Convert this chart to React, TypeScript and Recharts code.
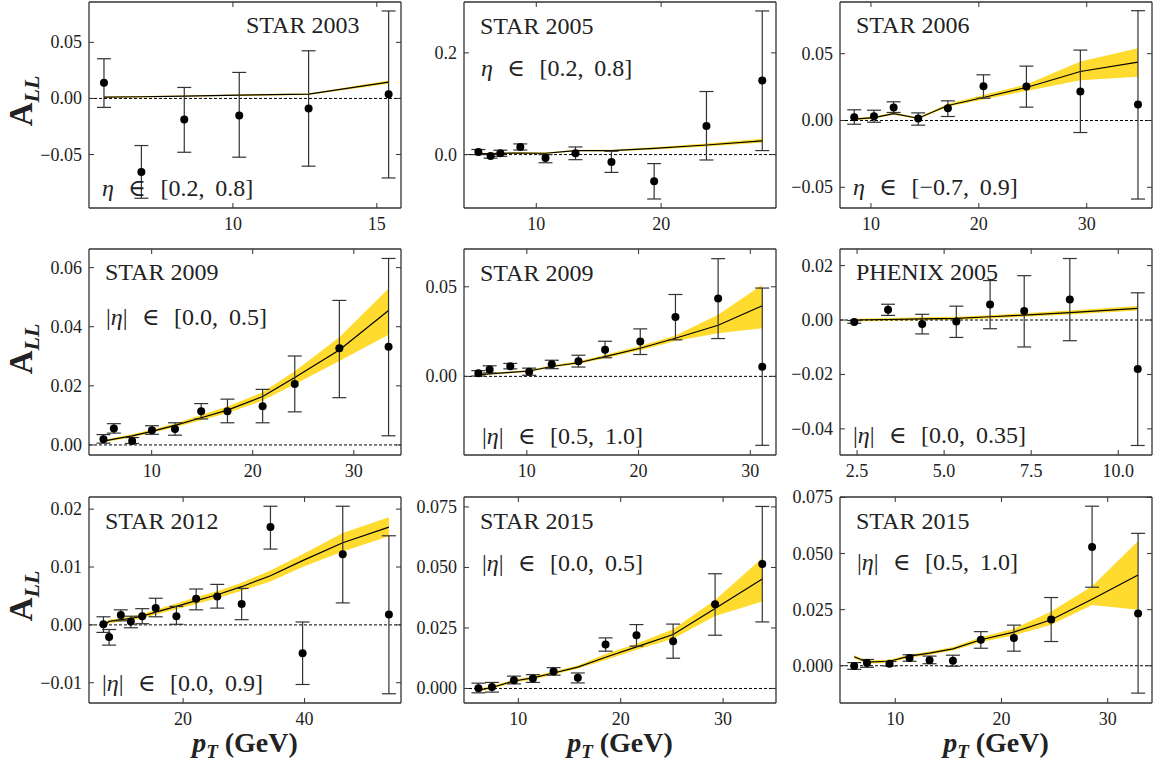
import React from 'react';
import {
  ComposedChart,
  Scatter,
  ErrorBar,
  Line,
  Area,
  XAxis,
  YAxis,
  ReferenceLine,
} from 'recharts';

// ---- data (pT in GeV, A_LL) ----

// STAR 2003
const p1X = [5.52, 6.82, 8.31, 10.22, 12.63, 15.41];
const p1A = [0.0139, -0.0655, -0.0188, -0.0152, -0.0089, 0.0038];
const p1Hi = [0.0354, -0.042, 0.0098, 0.0232, 0.0425, 0.078];
const p1Lo = [-0.008, -0.089, -0.048, -0.0524, -0.0604, -0.0709];
const p1CurveX = [5.52, 6.82, 8.31, 10.22, 12.63, 15.41];
const p1Curve = [0.0012, 0.0015, 0.002, 0.003, 0.0038, 0.0145];
const p1BandLo = [0.0006, 0.0009, 0.0014, 0.0023, 0.0031, 0.0132];
const p1BandHi = [0.0018, 0.0021, 0.0026, 0.0037, 0.0045, 0.016];

// STAR 2005
const p2X = [5.36, 6.34, 7.12, 8.72, 10.74, 13.14, 16.02, 19.44, 23.63, 28.1];
const p2A = [0.005, -0.003, 0.0026, 0.015, -0.0067, 0.0026, -0.0146, -0.0525, 0.0563, 0.1455];
const p2Hi = [0.01, 0.001, 0.0086, 0.021, 0.0, 0.015, 0.0065, -0.0177, 0.124, 0.2824];
const p2Lo = [0.0, -0.007, -0.0034, 0.009, -0.016, -0.01, -0.035, -0.0873, -0.0106, 0.0079];
const p2CurveX = [5.36, 6.34, 7.12, 8.72, 10.74, 13.14, 16.02, 19.44, 23.63, 28.1];
const p2Curve = [0.002, 0.002, 0.0025, 0.003, 0.0026, 0.0079, 0.0077, 0.0124, 0.0189, 0.027];
const p2BandLo = [0.0005, 0.0005, 0.001, 0.0015, 0.0011, 0.0064, 0.006, 0.0102, 0.016, 0.024];
const p2BandHi = [0.0035, 0.0035, 0.004, 0.0045, 0.0041, 0.0094, 0.0094, 0.0146, 0.0218, 0.031];

// STAR 2006
const p3X = [8.45, 10.28, 12.1, 14.38, 17.13, 20.43, 24.41, 29.41, 34.75];
const p3A = [0.0025, 0.0032, 0.0097, 0.0015, 0.0092, 0.0257, 0.0255, 0.0217, 0.012];
const p3Hi = [0.008, 0.0077, 0.014, 0.0057, 0.0147, 0.0342, 0.0407, 0.0527, 0.0822];
const p3Lo = [-0.0028, -0.0013, 0.006, -0.0035, 0.003, 0.0167, 0.01, -0.009, -0.0588];
const p3CurveX = [8.45, 10.28, 12.1, 14.38, 17.13, 20.43, 24.41, 29.41, 34.75];
const p3Curve = [0.001, 0.0022, 0.0052, 0.0017, 0.0112, 0.0172, 0.0247, 0.0367, 0.0437];
const p3BandLo = [0.0002, 0.0014, 0.0044, 0.0009, 0.0102, 0.0158, 0.022, 0.0302, 0.0327];
const p3BandHi = [0.0018, 0.003, 0.006, 0.0025, 0.0125, 0.019, 0.027, 0.0442, 0.054];

// STAR 2009 |eta| < 0.5
const p4X = [5.23, 6.26, 8.07, 10.03, 12.31, 14.9, 17.5, 20.98, 24.16, 28.57, 33.44];
const p4A = [0.0019, 0.0056, 0.0013, 0.005, 0.0054, 0.0114, 0.0114, 0.0131, 0.0206, 0.0327, 0.0332];
const p4Hi = [0.0035, 0.0072, 0.0025, 0.0065, 0.0075, 0.014, 0.0155, 0.0188, 0.0301, 0.0489, 0.0631];
const p4Lo = [0.0006, 0.004, 0.0005, 0.0036, 0.0033, 0.0088, 0.0075, 0.0075, 0.0112, 0.016, 0.0031];
const p4CurveX = [5.23, 6.26, 8.07, 10.03, 12.31, 14.9, 17.5, 20.98, 24.16, 28.57, 33.44];
const p4Curve = [0.0013, 0.002, 0.0031, 0.0046, 0.0066, 0.0092, 0.0118, 0.0164, 0.0228, 0.0321, 0.0455];
const p4BandLo = [0.0009, 0.0015, 0.0026, 0.0041, 0.006, 0.0084, 0.0108, 0.015, 0.0205, 0.0284, 0.0373];
const p4BandHi = [0.0017, 0.0024, 0.0036, 0.0052, 0.0073, 0.0101, 0.013, 0.0178, 0.0249, 0.0364, 0.0529];

// STAR 2009 0.5 < |eta| < 1.0
const p5X = [5.66, 6.67, 8.52, 10.21, 12.23, 14.62, 17.0, 20.15, 23.3, 27.12, 31.07];
const p5A = [0.0017, 0.0039, 0.0057, 0.0026, 0.0067, 0.0085, 0.0148, 0.0194, 0.0331, 0.0435, 0.0054];
const p5Hi = [0.0032, 0.0059, 0.0072, 0.0046, 0.009, 0.0118, 0.0196, 0.0265, 0.0457, 0.0657, 0.0493];
const p5Lo = [0.0002, 0.0019, 0.0042, 0.0006, 0.0043, 0.0052, 0.0104, 0.0122, 0.0204, 0.0211, -0.0385];
const p5CurveX = [5.66, 6.67, 8.52, 10.21, 12.23, 14.62, 17.0, 20.15, 23.3, 27.12, 31.07];
const p5Curve = [0.0009, 0.0014, 0.0022, 0.003, 0.0055, 0.0076, 0.011, 0.0157, 0.0213, 0.0285, 0.0394];
const p5BandLo = [0.0004, 0.0009, 0.0017, 0.0025, 0.0049, 0.0069, 0.0101, 0.0146, 0.0198, 0.024, 0.0268];
const p5BandHi = [0.0014, 0.0019, 0.0027, 0.0036, 0.0062, 0.0084, 0.012, 0.017, 0.0228, 0.0344, 0.0511];

// PHENIX 2005
const p6X = [2.42, 3.39, 4.37, 5.35, 6.32, 7.3, 8.61, 10.56];
const p6A = [-0.0007, 0.0038, -0.0015, -0.0005, 0.0057, 0.0033, 0.0075, -0.018];
const p6Hi = [-0.0002, 0.0058, 0.0021, 0.0051, 0.0145, 0.0163, 0.0226, 0.01];
const p6Lo = [-0.0012, 0.0017, -0.0051, -0.0064, -0.0032, -0.0099, -0.0076, -0.0461];
const p6CurveX = [2.42, 3.39, 4.37, 5.35, 6.32, 7.3, 8.61, 10.56];
const p6Curve = [0.0, 0.0002, 0.0004, 0.0006, 0.0012, 0.0018, 0.0027, 0.0043];
const p6BandLo = [-0.0005, -0.0003, -0.0001, 0.0001, 0.0006, 0.0012, 0.002, 0.0035];
const p6BandHi = [0.0005, 0.0007, 0.001, 0.0012, 0.0018, 0.0025, 0.0035, 0.0052];

// STAR 2012
const p7X = [6.89, 7.82, 9.75, 11.4, 13.27, 15.49, 18.9, 22.15, 25.62, 29.64, 34.38, 39.67, 46.28, 53.88];
const p7A = [0.0001, -0.0021, 0.0017, 0.0006, 0.0015, 0.0029, 0.0015, 0.0045, 0.0049, 0.0036, 0.0169, -0.0049, 0.0122, 0.0018];
const p7Hi = [0.0014, -0.0008, 0.0026, 0.0015, 0.0028, 0.0046, 0.0032, 0.0062, 0.007, 0.0063, 0.0205, 0.0005, 0.0205, 0.0154];
const p7Lo = [-0.0013, -0.0035, 0.0007, -0.0005, 0.0002, 0.0014, 0.0001, 0.0026, 0.0029, 0.0009, 0.0131, -0.0103, 0.0038, -0.0119];
const p7CurveX = [7.2, 7.82, 9.75, 11.4, 13.27, 15.49, 18.9, 22.15, 25.62, 29.64, 34.38, 39.67, 46.28, 53.88];
const p7Curve = [0.0001, 0.0006, 0.0009, 0.0011, 0.0015, 0.0022, 0.0032, 0.0042, 0.0052, 0.0066, 0.0085, 0.0111, 0.0142, 0.0169];
const p7BandLo = [-0.0002, 0.0003, 0.0006, 0.0008, 0.0011, 0.0018, 0.0027, 0.0036, 0.0046, 0.0059, 0.0075, 0.01, 0.0127, 0.0153];
const p7BandHi = [0.0004, 0.0009, 0.0012, 0.0014, 0.0019, 0.0026, 0.0037, 0.0048, 0.0058, 0.0073, 0.0094, 0.0122, 0.0159, 0.0186];

// STAR 2015 |eta| < 0.5
const p8X = [6.1, 7.42, 9.57, 11.42, 13.44, 15.81, 18.52, 21.54, 25.12, 29.22, 33.83];
const p8A = [0.0001, 0.0006, 0.0034, 0.0041, 0.007, 0.0044, 0.0182, 0.022, 0.0195, 0.0348, 0.0514];
const p8Hi = [0.0022, 0.0025, 0.0051, 0.0057, 0.0086, 0.0064, 0.0209, 0.0264, 0.0266, 0.0474, 0.0752];
const p8Lo = [-0.0018, -0.0015, 0.0019, 0.0025, 0.0055, 0.0023, 0.0154, 0.0175, 0.0125, 0.022, 0.0275];
const p8CurveX = [6.1, 7.42, 9.57, 11.42, 13.44, 15.81, 18.52, 21.54, 25.12, 29.22, 33.83];
const p8Curve = [-0.0007, 0.0004, 0.0031, 0.0044, 0.0064, 0.0088, 0.0129, 0.0172, 0.0223, 0.033, 0.0452];
const p8BandLo = [-0.0013, -0.0002, 0.0025, 0.0037, 0.0057, 0.0083, 0.0118, 0.016, 0.0205, 0.0299, 0.0359];
const p8BandHi = [-0.0001, 0.001, 0.0037, 0.0051, 0.0071, 0.0095, 0.0142, 0.0185, 0.0245, 0.0365, 0.0539];

// STAR 2015 0.5 < |eta| < 1.0
const p9X = [6.14, 7.34, 9.46, 11.35, 13.23, 15.43, 18.06, 21.17, 24.68, 28.53, 32.86];
const p9A = [-0.0001, 0.0012, 0.0009, 0.0034, 0.0025, 0.0022, 0.0116, 0.0124, 0.0206, 0.0529, 0.0233];
const p9Hi = [0.0014, 0.0028, 0.0019, 0.0049, 0.0043, 0.0047, 0.0152, 0.0181, 0.0304, 0.0711, 0.059];
const p9Lo = [-0.0016, -0.0007, -0.0001, 0.002, 0.0009, -0.0002, 0.0078, 0.0065, 0.0108, 0.035, -0.0122];
const p9CurveX = [6.14, 7.34, 9.46, 11.35, 13.23, 15.43, 18.06, 21.17, 24.68, 28.53, 32.86];
const p9Curve = [0.004, 0.0016, 0.002, 0.0043, 0.0056, 0.0075, 0.0116, 0.015, 0.0205, 0.0296, 0.0404];
const p9BandLo = [0.0033, 0.0009, 0.0013, 0.0036, 0.0049, 0.0068, 0.0106, 0.0135, 0.0183, 0.0271, 0.0249];
const p9BandHi = [0.0047, 0.0023, 0.0027, 0.005, 0.0064, 0.0083, 0.0127, 0.0165, 0.0242, 0.0354, 0.0556];

// tick labels
const ticksY1 = [-0.05, 0, 0.05];
const ticksY2 = [0, 0.2];
const ticksY4 = [0, 0.02, 0.04, 0.06];
const ticksY5 = [0, 0.05];
const ticksY6 = [-0.04, -0.02, 0, 0.02];
const ticksY7 = [-0.01, 0, 0.01, 0.02];
const ticksY8 = [0, 0.025, 0.05, 0.075];
const ticksX1 = [10, 15];
const ticksX2 = [10, 20];
const ticksX3 = [10, 20, 30];
const ticksX6 = [2.5, 5, 7.5, 10];
const ticksX7 = [20, 40];

const FONT = '"Liberation Serif", "DejaVu Serif", serif';
const INK = '#222';
const FRAME = '#333';
const GOLD = '#fedb2e';

// plot box size and chart margins around it
const PW = 312;
const PH = 206;
const ML = 70;
const MT = 12;
const MR = 6;
const MB = 30;

const fmt = (v: number, d: number) => {
  const s = Math.abs(v).toFixed(d);
  return v < -1e-12 ? '\u2212' + s : s;
};

const panels = [
  { left: 89, top: 2, x: p1X, a: p1A, hi: p1Hi, lo: p1Lo, cx: p1CurveX, cy: p1Curve, blo: p1BandLo, bhi: p1BandHi, xd: [5.0, 15.84], yd: [-0.0977, 0.086], xt: ticksX1, yt: ticksY1, xdec: 0, ydec: 2 },
  { left: 464, top: 2, x: p2X, a: p2A, hi: p2Hi, lo: p2Lo, cx: p2CurveX, cy: p2Curve, blo: p2BandLo, bhi: p2BandHi, xd: [4.21, 29.2], yd: [-0.105, 0.3], xt: ticksX2, yt: ticksY2, xdec: 0, ydec: 1 },
  { left: 840, top: 2, x: p3X, a: p3A, hi: p3Hi, lo: p3Lo, cx: p3CurveX, cy: p3Curve, blo: p3BandLo, bhi: p3BandHi, xd: [7.13, 36.05], yd: [-0.0655, 0.0887], xt: ticksX3, yt: ticksY1, xdec: 0, ydec: 2 },
  { left: 89, top: 249, x: p4X, a: p4A, hi: p4Hi, lo: p4Lo, cx: p4CurveX, cy: p4Curve, blo: p4BandLo, bhi: p4BandHi, xd: [3.8, 34.67], yd: [-0.0034, 0.0663], xt: ticksX3, yt: ticksY4, xdec: 0, ydec: 2 },
  { left: 464, top: 249, x: p5X, a: p5A, hi: p5Hi, lo: p5Lo, cx: p5CurveX, cy: p5Curve, blo: p5BandLo, bhi: p5BandHi, xd: [4.375, 32.3], yd: [-0.0439, 0.0711], xt: ticksX3, yt: ticksY5, xdec: 0, ydec: 2 },
  { left: 840, top: 249, x: p6X, a: p6A, hi: p6Hi, lo: p6Lo, cx: p6CurveX, cy: p6Curve, blo: p6BandLo, bhi: p6BandHi, xd: [2.01, 10.97], yd: [-0.0496, 0.0261], xt: ticksX6, yt: ticksY6, xdec: 1, ydec: 2 },
  { left: 89, top: 497, x: p7X, a: p7A, hi: p7Hi, lo: p7Lo, cx: p7CurveX, cy: p7Curve, blo: p7BandLo, bhi: p7BandHi, xd: [4.51, 55.87], yd: [-0.0135, 0.0221], xt: ticksX7, yt: ticksY7, xdec: 0, ydec: 2 },
  { left: 464, top: 497, x: p8X, a: p8A, hi: p8Hi, lo: p8Lo, cx: p8CurveX, cy: p8Curve, blo: p8BandLo, bhi: p8BandHi, xd: [4.69, 35.17], yd: [-0.006, 0.0791], xt: ticksX3, yt: ticksY8, xdec: 0, ydec: 3 },
  { left: 840, top: 497, x: p9X, a: p9A, hi: p9Hi, lo: p9Lo, cx: p9CurveX, cy: p9Curve, blo: p9BandLo, bhi: p9BandHi, xd: [4.8, 34.17], yd: [-0.0166, 0.0752], xt: ticksX3, yt: ticksY8, xdec: 0, ydec: 3 },
];

const titles = [
  { text: 'STAR 2003', x: 246, y: 25 },
  { text: 'STAR 2005', x: 480, y: 26 },
  { text: 'STAR 2006', x: 856, y: 25 },
  { text: 'STAR 2009', x: 105, y: 272 },
  { text: 'STAR 2009', x: 480, y: 273 },
  { text: 'PHENIX 2005', x: 856, y: 272 },
  { text: 'STAR 2012', x: 105, y: 521 },
  { text: 'STAR 2015', x: 480, y: 521 },
  { text: 'STAR 2015', x: 856, y: 521 },
];

const etaLabels = [
  { abs: false, lo: '0.2', hi: '0.8', x: 102, y: 188 },
  { abs: false, lo: '0.2', hi: '0.8', x: 481, y: 68 },
  { abs: false, lo: '\u22120.7', hi: '0.9', x: 853, y: 187 },
  { abs: true, lo: '0.0', hi: '0.5', x: 106, y: 317 },
  { abs: true, lo: '0.5', hi: '1.0', x: 482, y: 436 },
  { abs: true, lo: '0.0', hi: '0.35', x: 853, y: 435 },
  { abs: true, lo: '0.0', hi: '0.9', x: 102, y: 683 },
  { abs: true, lo: '0.0', hi: '0.5', x: 482, y: 563 },
  { abs: true, lo: '0.5', hi: '1.0', x: 857, y: 562 },
];

const axisLine = { stroke: FRAME, strokeWidth: 1.3 };
const tickText = { fontFamily: FONT, fontSize: 18, fill: INK };

function Panel({ p }: { p: (typeof panels)[number] }) {
  const pts = p.x.map((x, i) => ({ x, y: p.a[i], err: [p.a[i] - p.lo[i], p.hi[i] - p.a[i]] }));
  const curve = p.cx.map((x, i) => ({ x, c: p.cy[i], band: [p.blo[i], p.bhi[i]] }));

  return (
    <div style={{ position: 'absolute', left: p.left - ML, top: p.top - MT }}>
      <ComposedChart
        width={PW + ML + MR}
        height={PH + MT + MB}
        margin={{ top: MT - 1, right: MR - 1, bottom: 0, left: 0 }}
      >
        <XAxis
          dataKey="x"
          type="number"
          domain={p.xd}
          allowDataOverflow
          ticks={p.xt}
          interval={0}
          height={MB}
          tickSize={0}
          tickMargin={0}
          axisLine={axisLine}
          tickLine={false}
          tick={(t: any) => (
            <g>
              <line x1={t.x} x2={t.x} y1={t.y} y2={t.y - 5} stroke={FRAME} strokeWidth={1} />
              <text x={t.x} y={t.y + 22} textAnchor="middle" {...tickText}>
                {fmt(t.payload.value, p.xdec)}
              </text>
            </g>
          )}
        />
        <XAxis
          xAxisId="top"
          orientation="top"
          dataKey="x"
          type="number"
          domain={p.xd}
          allowDataOverflow
          ticks={p.xt}
          interval={0}
          height={1}
          tickSize={0}
          tickMargin={0}
          axisLine={axisLine}
          tickLine={false}
          tick={(t: any) => (
            <line x1={t.x} x2={t.x} y1={t.y} y2={t.y + 5} stroke={FRAME} strokeWidth={1} />
          )}
        />
        <YAxis
          dataKey="y"
          type="number"
          domain={p.yd}
          allowDataOverflow
          ticks={p.yt}
          interval={0}
          width={ML}
          tickSize={0}
          tickMargin={0}
          axisLine={axisLine}
          tickLine={false}
          tick={(t: any) => (
            <g>
              <line x1={t.x} x2={t.x + 5} y1={t.y} y2={t.y} stroke={FRAME} strokeWidth={1} />
              <text x={t.x - 7} y={t.y + 6} textAnchor="end" {...tickText}>
                {fmt(t.payload.value, p.ydec)}
              </text>
            </g>
          )}
        />
        <YAxis
          yAxisId="right"
          orientation="right"
          dataKey="y"
          type="number"
          domain={p.yd}
          allowDataOverflow
          ticks={p.yt}
          interval={0}
          width={1}
          tickSize={0}
          tickMargin={0}
          axisLine={axisLine}
          tickLine={false}
          tick={(t: any) => (
            <line x1={t.x} x2={t.x - 5} y1={t.y} y2={t.y} stroke={FRAME} strokeWidth={1} />
          )}
        />
        <Area
          data={curve}
          dataKey="band"
          type="linear"
          stroke="none"
          fill={GOLD}
          fillOpacity={1}
          isAnimationActive={false}
        />
        <ReferenceLine y={0} stroke="#000" strokeWidth={1} strokeDasharray="3 2" />
        <Line
          data={curve}
          dataKey="c"
          type="linear"
          stroke="#000"
          strokeWidth={1.2}
          dot={false}
          isAnimationActive={false}
        />
        <Scatter
          data={pts}
          dataKey="y"
          isAnimationActive={false}
          shape={(s: any) => <circle cx={s.cx} cy={s.cy} r={4} fill="#000" />}
        >
          <ErrorBar dataKey="err" direction="y" width={7} stroke={FRAME} strokeWidth={1.2} />
        </Scatter>
      </ComposedChart>
    </div>
  );
}

export default function App() {
  const label: React.CSSProperties = {
    position: 'absolute',
    fontFamily: FONT,
    fontSize: 24,
    color: INK,
    lineHeight: 1,
    whiteSpace: 'nowrap',
    transform: 'translateY(-50%)',
  };

  return (
    <div style={{ position: 'absolute', left: 0, top: 0, width: 1160, height: 763, background: '#fff' }}>
      {panels.map((p, i) => (
        <Panel key={i} p={p} />
      ))}

      {titles.map((t, i) => (
        <div key={`t${i}`} style={{ ...label, left: t.x, top: t.y }}>
          {t.text}
        </div>
      ))}

      {etaLabels.map((e, i) => (
        <div key={`e${i}`} style={{ ...label, left: e.x, top: e.y }}>
          {e.abs ? '|' : ''}
          <i>η</i>
          {e.abs ? '|' : ''}
          <span style={{ margin: '0 0.6em' }}>∈</span>[{e.lo},<span style={{ marginLeft: '0.45em' }}>{e.hi}]</span>
        </div>
      ))}

      {/* y axis labels */}
      {[101, 349, 596].map((cy, i) => (
        <div
          key={`y${i}`}
          style={{
            position: 'absolute',
            left: 24,
            top: cy,
            transform: 'translate(-50%, -50%) rotate(-90deg)',
            fontFamily: FONT,
            fontSize: 33,
            fontWeight: 'bold',
            color: INK,
            lineHeight: 1,
            whiteSpace: 'nowrap',
          }}
        >
          A<sub style={{ fontSize: 22, fontStyle: 'italic' }}>LL</sub>
        </div>
      ))}

      {/* x axis labels */}
      {[245, 620, 996].map((cx, i) => (
        <div
          key={`x${i}`}
          style={{
            position: 'absolute',
            left: cx,
            top: 745,
            transform: 'translate(-50%, -50%)',
            fontFamily: FONT,
            fontSize: 28,
            fontWeight: 'bold',
            color: INK,
            lineHeight: 1,
            whiteSpace: 'nowrap',
          }}
        >
          <i>p</i>
          <sub style={{ fontSize: 19, fontStyle: 'italic' }}>T</sub> (GeV)
        </div>
      ))}
    </div>
  );
}
